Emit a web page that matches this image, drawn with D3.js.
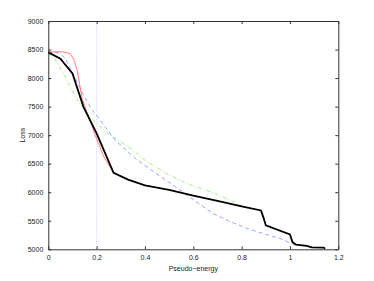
<!DOCTYPE html>
<html>
<head>
<meta charset="utf-8">
<script src="https://cdn.jsdelivr.net/npm/d3@7"></script>
<style>
  body { margin: 0; background: #fff; }
  svg { display: block; font-family: "Liberation Sans", Arial, sans-serif; }
</style>
</head>
<body>
<svg width="374" height="281"></svg>
<script>
var blackX = [0, 0.05, 0.1, 0.145, 0.2, 0.27, 0.33, 0.4, 0.5, 0.6, 0.7, 0.8, 0.88, 0.89, 0.9, 1.0, 1.01, 1.025, 1.07, 1.09, 1.14, 1.145];
var blackY = [8450, 8340, 8080, 7500, 7030, 6340, 6220, 6120, 6040, 5940, 5850, 5750, 5680, 5560, 5420, 5260, 5130, 5080, 5060, 5035, 5030, 5010];

var redX = [0, 0.06, 0.09, 0.105, 0.12, 0.14, 0.16, 0.2, 0.23, 0.27];
var redY = [8460, 8460, 8430, 8330, 8130, 7640, 7400, 6930, 6620, 6340];

var blueX = [0, 0.045, 0.07, 0.1, 0.14, 0.18, 0.2, 0.276, 0.359, 0.45, 0.545, 0.63, 0.68, 0.75, 0.82, 0.9, 0.96, 1.02];
var blueY = [8450, 8440, 8350, 8090, 7750, 7450, 7350, 6915, 6594, 6320, 6040, 5780, 5630, 5490, 5370, 5260, 5190, 5075];

var greenX = [0, 0.04, 0.08, 0.12, 0.16, 0.2, 0.25, 0.3, 0.35, 0.4, 0.45, 0.5, 0.55, 0.6, 0.65, 0.7, 0.75, 0.8, 0.85, 0.875];
var greenY = [8450, 8260, 7930, 7620, 7380, 7200, 7020, 6880, 6740, 6560, 6430, 6300, 6200, 6110, 6040, 5960, 5860, 5770, 5710, 5690];

var markerX = 0.2;
var xTicks = [0, 0.2, 0.4, 0.6, 0.8, 1, 1.2];
var yTicks = [5000, 5500, 6000, 6500, 7000, 7500, 8000, 8500, 9000];

var svg = d3.select("svg");
var mLeft = 48.3, mRight = 338.3, mTop = 21, mBottom = 249.3;

var x = d3.scaleLinear().domain([0, 1.2]).range([mLeft, mRight]);
var y = d3.scaleLinear().domain([5000, 9000]).range([mBottom, mTop]);

function pts(xs, ys) {
    return xs.map(function(v, i) { return [v, ys[i]]; });
}

var line = d3.line()
    .x(function(d) { return x(d[0]); })
    .y(function(d) { return y(d[1]); });

// vertical marker
svg.append("line")
    .attr("x1", x(markerX)).attr("x2", x(markerX))
    .attr("y1", y(9000)).attr("y2", y(5000))
    .attr("stroke", "#c4c8ff")
    .attr("stroke-width", 0.9)
    .attr("stroke-dasharray", "1,1.5");

svg.append("path")
    .datum(pts(greenX, greenY))
    .attr("d", line)
    .attr("fill", "none")
    .attr("stroke", "#86e860")
    .attr("stroke-width", 0.8)
    .attr("stroke-dasharray", "4,2,1,2");

svg.append("path")
    .datum(pts(blueX, blueY))
    .attr("d", line)
    .attr("fill", "none")
    .attr("stroke", "#7b8cff")
    .attr("stroke-width", 0.8)
    .attr("stroke-dasharray", "4,3");

svg.append("path")
    .datum(pts(redX, redY))
    .attr("d", line)
    .attr("fill", "none")
    .attr("stroke", "#ff5a5a")
    .attr("stroke-width", 0.8);

svg.append("path")
    .datum(pts(blackX, blackY))
    .attr("d", line)
    .attr("fill", "none")
    .attr("stroke", "#000")
    .attr("stroke-width", 1.8);

// axes, ticks inward on all sides
var axisColor = "#333";
var xb = svg.append("g").attr("transform", "translate(0," + mBottom + ")")
    .call(d3.axisBottom(x).tickValues(xTicks).tickSizeInner(-3).tickSizeOuter(0).tickPadding(6)
        .tickFormat(function(d) { return d3.format("")(d); }));
var xt = svg.append("g").attr("transform", "translate(0," + mTop + ")")
    .call(d3.axisTop(x).tickValues(xTicks).tickSizeInner(-3).tickSizeOuter(0).tickFormat(""));
var yl = svg.append("g").attr("transform", "translate(" + mLeft + ",0)")
    .call(d3.axisLeft(y).tickValues(yTicks).tickSizeInner(-3).tickSizeOuter(0).tickPadding(5)
        .tickFormat(d3.format("d")));
var yr = svg.append("g").attr("transform", "translate(" + mRight + ",0)")
    .call(d3.axisRight(y).tickValues(yTicks).tickSizeInner(-3).tickSizeOuter(0).tickFormat(""));

[xb, xt, yl, yr].forEach(function(g) {
    g.select(".domain").attr("stroke", axisColor).attr("stroke-width", 1);
    g.selectAll(".tick line").attr("stroke", axisColor);
    g.selectAll("text").attr("fill", "#222").style("font-size", "7px")
        .style("font-family", "'Liberation Sans', Arial, sans-serif");
});

svg.append("text")
    .attr("x", (mLeft + mRight) / 2)
    .attr("y", 271)
    .attr("text-anchor", "middle")
    .style("font-size", "7px")
    .attr("fill", "#222")
    .text("Pseudo\u2212energy");

svg.append("text")
    .attr("transform", "translate(25," + ((mTop + mBottom) / 2) + ") rotate(-90)")
    .attr("text-anchor", "middle")
    .style("font-size", "7px")
    .attr("fill", "#222")
    .text("Loss");
</script>
</body>
</html>
